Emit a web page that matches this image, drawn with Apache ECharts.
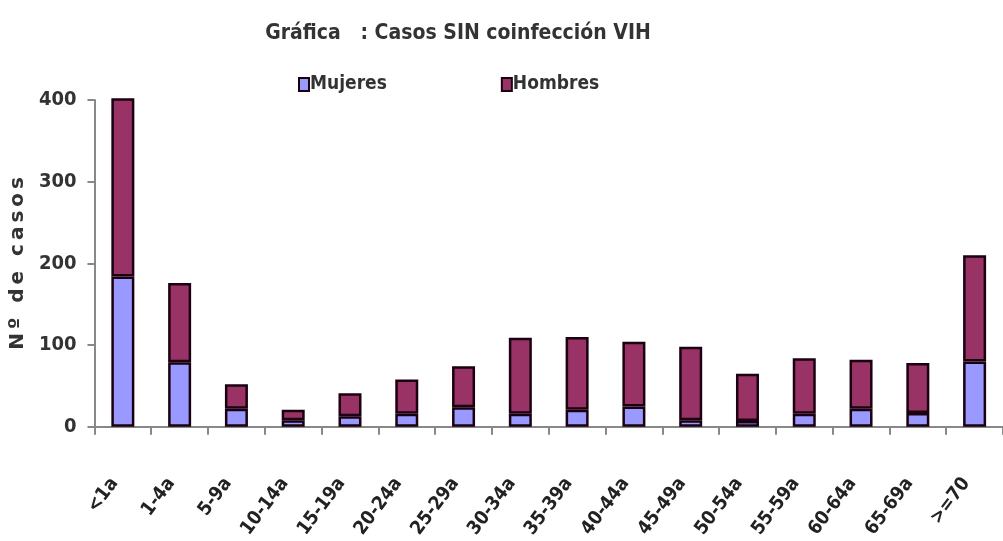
<!DOCTYPE html>
<html><head><meta charset="utf-8">
<script src="https://cdn.jsdelivr.net/npm/echarts@6/dist/echarts.min.js"></script>
<style>html,body{margin:0;padding:0;background:#fff}#c{width:1003px;height:541px}</style>
</head><body><div id="c"></div>
<script>
const categories = ['<1a','1-4a','5-9a','10-14a','15-19a','20-24a','25-29a','30-34a','35-39a','40-44a','45-49a','50-54a','55-59a','60-64a','65-69a','>=70'];
const mujeres = [184, 79, 22, 8, 13, 16, 24, 16, 21, 25, 8, 7, 16, 22, 17, 80];
const hombres = [218, 97, 30, 13, 28, 42, 50, 93, 89, 79, 90, 58, 68, 60, 61, 130];
const yTicks = [0, 100, 200, 300, 400];

const FONT = "'DejaVu Sans Condensed', 'Liberation Sans', Arial, sans-serif";
const T = '\u2009';
const chart = echarts.init(document.getElementById('c'), null, {renderer: 'canvas'});
chart.setOption({
  animation: false,
  backgroundColor: '#fff',
  title: {
    text: 'Gráfica   : Casos SIN coinfección VIH',
    left: 453, top: 18, textAlign: 'center',
    textStyle: {fontFamily: FONT, fontSize: 21, fontWeight: 'bold', color: '#333'}
  },
  legend: {
    data: ['Mujeres', 'Hombres'],
    left: 293, top: 70,
    itemGap: 114, itemWidth: 10, itemHeight: 13,
    icon: 'rect',
    itemStyle: {borderColor: '#1a0010', borderWidth: 2},
    textStyle: {fontFamily: FONT, fontSize: 19, fontWeight: 'bold', color: '#333', padding: [0,0,0,-4]}
  },
  grid: {left: 94, width: 916, top: 100, bottom: 114, containLabel: false},
  xAxis: {
    type: 'category', data: categories, boundaryGap: true,
    axisLine: {lineStyle: {color: '#888', width: 2}},
    axisTick: {show: true, length: 8, lineStyle: {color: '#888', width: 2}},
    axisLabel: {rotate: 53, margin: 42, padding: [0, 14, 0, 0], interval: 0, fontFamily: FONT, fontSize: 19, fontWeight: 'bold', color: '#222'}
  },
  yAxis: {
    type: 'value', min: 0, max: 400, interval: 100,
    name: ['N','º',' ','d','e',' ','c','a','s','o','s'].join(T), nameLocation: 'middle', nameGap: 64, nameRotate: 90,
    nameTextStyle: {fontFamily: "'DejaVu Sans', Arial, sans-serif", fontSize: 20, fontWeight: 'bold', color: '#333'},
    axisLine: {show: true, lineStyle: {color: '#888', width: 2}},
    axisTick: {show: true, length: 7, lineStyle: {color: '#888', width: 2}},
    splitLine: {show: false},
    axisLabel: {margin: 18, fontFamily: FONT, fontSize: 20, fontWeight: 'bold', color: '#333',
      formatter: v => yTicks.includes(v) ? String(v) : ''}
  },
  series: [
    {name: 'Mujeres', type: 'bar', stack: 's', data: mujeres, barWidth: 23, clip: false,
     itemStyle: {color: '#9999FF', borderColor: '#1a0010', borderWidth: 2.5}},
    {name: 'Hombres', type: 'bar', stack: 's', data: hombres, barWidth: 23, clip: false,
     itemStyle: {color: '#993366', borderColor: '#1a0010', borderWidth: 2.5}}
  ]
});
</script></body></html>
